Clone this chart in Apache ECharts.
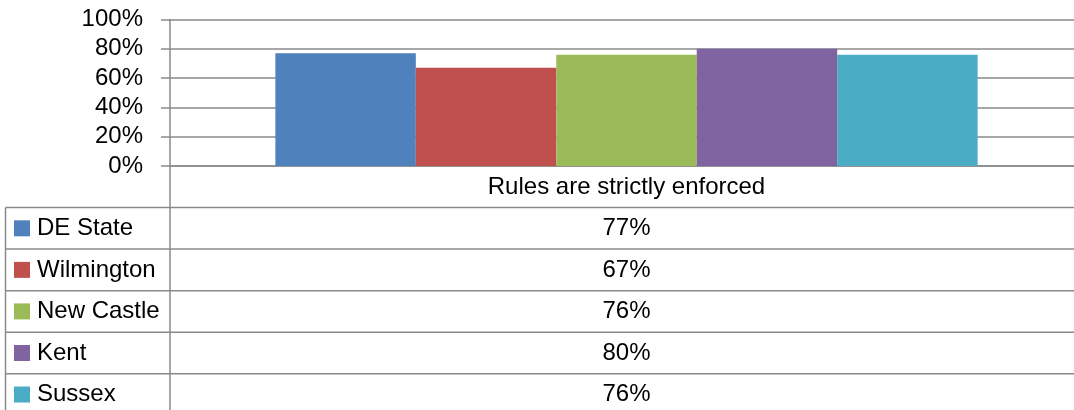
<!DOCTYPE html>
<html>
<head>
<meta charset="utf-8">
<script src="https://cdn.jsdelivr.net/npm/echarts@6/dist/echarts.min.js"></script>
<style>
html,body{margin:0;padding:0;background:#fff;}
#chart{width:1074px;height:410px;}
</style>
</head>
<body>
<div id="chart"></div>
<script>
const categories = ['Rules are strictly enforced'];
const seriesNames = ['DE State', 'Wilmington', 'New Castle', 'Kent', 'Sussex'];
const deState = [77];
const wilmington = [67];
const newCastle = [76];
const kent = [80];
const sussex = [76];
const seriesValues = [deState, wilmington, newCastle, kent, sussex];
const colors = ['#4F81BD', '#C0504D', '#9BBB59', '#8064A2', '#4BACC6'];

const FONT = '"Liberation Sans", Arial, sans-serif';
const GRAY = '#8a8a8a';
const FS = 24;

const chart = echarts.init(document.getElementById('chart'), null, {renderer: 'canvas'});

const option = {
  animation: false,
  backgroundColor: '#fff',
  textStyle: {fontFamily: FONT},
  grid: {left: 170, top: 19.5, width: 913, height: 146.5, containLabel: false, outerBoundsMode: 'none'},
  xAxis: {
    type: 'category',
    data: categories,
    axisLine: {show: true, lineStyle: {color: GRAY, width: 1.5}},
    axisTick: {show: false},
    axisLabel: {fontSize: FS, color: '#000', fontFamily: FONT, margin: 9, lineHeight: 24}
  },
  yAxis: {
    type: 'value',
    min: 0, max: 100, interval: 20,
    axisLine: {show: true, lineStyle: {color: GRAY, width: 1.5}},
    axisTick: {show: true, length: 9, lineStyle: {color: GRAY, width: 1.5}},
    axisLabel: {formatter: '{value}%', fontSize: FS, color: '#000', fontFamily: FONT, margin: 27},
    splitLine: {show: true, lineStyle: {color: GRAY, width: 1.5}}
  },
  series: seriesNames.map((name, i) => ({
    name: name,
    type: 'bar',
    data: seriesValues[i],
    itemStyle: {color: colors[i]},
    barGap: '0%',
    barCategoryGap: '23.08%'
  }))
};
chart.setOption(option);

// Data table beneath the chart
const zeroY = chart.convertToPixel({yAxisIndex: 0}, 0);
const rowH = 41.55;
const tableLeft = 5.5;
const tableRight = 1074;
const graphics = [];
graphics.push({type: 'line', shape: {x1: 170, y1: zeroY, x2: 170, y2: 410}, style: {stroke: GRAY, lineWidth: 1.5}, z: 10});
graphics.push({type: 'line', shape: {x1: tableLeft, y1: zeroY + rowH, x2: tableLeft, y2: 410}, style: {stroke: GRAY, lineWidth: 1.5}, z: 10});
for (let r = 1; r <= seriesNames.length; r++) {
  const y = zeroY + rowH * r;
  graphics.push({type: 'line', shape: {x1: tableLeft, y1: y, x2: tableRight, y2: y}, style: {stroke: GRAY, lineWidth: 1.5}, z: 10});
}
seriesNames.forEach((name, i) => {
  const cy = zeroY + rowH * (i + 1) + rowH / 2;
  graphics.push({type: 'rect', shape: {x: 14, y: cy - 8, width: 16, height: 16}, style: {fill: colors[i]}, z: 10});
  graphics.push({type: 'text', x: 37, y: cy, style: {text: name, font: FS + 'px ' + FONT, fill: '#000', textAlign: 'left', textVerticalAlign: 'middle'}, z: 10});
  categories.forEach((c, j) => {
    const cx = chart.convertToPixel({xAxisIndex: 0}, j);
    graphics.push({type: 'text', x: cx, y: cy, style: {text: seriesValues[i][j] + '%', font: FS + 'px ' + FONT, fill: '#000', textAlign: 'center', textVerticalAlign: 'middle'}, z: 10});
  });
});
chart.setOption({graphic: graphics});
</script>
</body>
</html>
